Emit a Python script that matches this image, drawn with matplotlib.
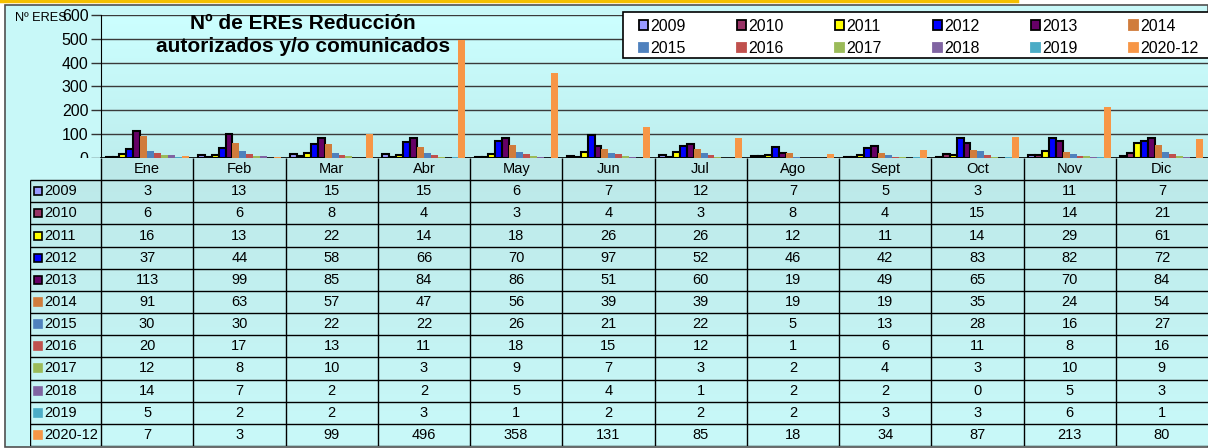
import numpy as np
import matplotlib
matplotlib.use("Agg")
import matplotlib.pyplot as plt
from matplotlib.patches import Rectangle
from matplotlib.lines import Line2D
from matplotlib.colors import LinearSegmentedColormap

"""Datos: numero de EREs de reduccion por mes y año"""
months = ['Ene', 'Feb', 'Mar', 'Abr', 'May', 'Jun', 'Jul', 'Ago', 'Sept', 'Oct', 'Nov', 'Dic']
years = ['2009', '2010', '2011', '2012', '2013', '2014',
         '2015', '2016', '2017', '2018', '2019', '2020-12']

v2009 = [3, 13, 15, 15, 6, 7, 12, 7, 5, 3, 11, 7]
v2010 = [6, 6, 8, 4, 3, 4, 3, 8, 4, 15, 14, 21]
v2011 = [16, 13, 22, 14, 18, 26, 26, 12, 11, 14, 29, 61]
v2012 = [37, 44, 58, 66, 70, 97, 52, 46, 42, 83, 82, 72]
v2013 = [113, 99, 85, 84, 86, 51, 60, 19, 49, 65, 70, 84]
v2014 = [91, 63, 57, 47, 56, 39, 39, 19, 19, 35, 24, 54]
v2015 = [30, 30, 22, 22, 26, 21, 22, 5, 13, 28, 16, 27]
v2016 = [20, 17, 13, 11, 18, 15, 12, 1, 6, 11, 8, 16]
v2017 = [12, 8, 10, 3, 9, 7, 3, 2, 4, 3, 10, 9]
v2018 = [14, 7, 2, 2, 5, 4, 1, 2, 2, 0, 5, 3]
v2019 = [5, 2, 2, 3, 1, 2, 2, 2, 3, 3, 6, 1]
v2020 = [7, 3, 99, 496, 358, 131, 85, 18, 34, 87, 213, 80]

series = [v2009, v2010, v2011, v2012, v2013, v2014,
          v2015, v2016, v2017, v2018, v2019, v2020]
colors = ['#9999FF', '#993366', '#FFFF00', '#0000FF', '#660066', '#D07C3C',
          '#4F81BD', '#C0504D', '#9BBB59', '#8064A2', '#4BACC6', '#F79646']
n_edged = 5   # 2009-2013 llevan borde negro

"""Figura"""
W, H = 1208, 448
plt.rcParams['font.family'] = ['Liberation Sans', 'DejaVu Sans']
fig = plt.figure(figsize=(W / 100, H / 100), dpi=100, facecolor='white')


def box(x0, y0, x1, y1):
    # pixel box (top-left origin) -> figure fraction rect
    return [x0 / W, 1 - y1 / H, (x1 - x0) / W, (y1 - y0) / H]


fig.patches.append(Rectangle((5 / W, 1 - 447 / H), (W - 5) / W, 442 / H,
                             transform=fig.transFigure, facecolor='#C8F8F8',
                             edgecolor='#505050', lw=1.2, zorder=-5))
fig.add_artist(Line2D([0, 1017 / W], [1 - 1 / H] * 2, color='#F5C000', lw=2.5))

"""Barras"""
ax = fig.add_axes(box(101, 15, 1208, 158))
ax.patch.set_alpha(0)
cm_plot = LinearSegmentedColormap.from_list('bgp', ['#CCFFFF', '#BEEEEE'])
ax.imshow(np.linspace(0, 1, 100)[:, None], extent=[0, 12, 0, 600],
          aspect='auto', cmap=cm_plot, zorder=0)

w = 0.075
off = (1 - 12 * w) / 2
for i, (vals, c) in enumerate(zip(series, colors)):
    x = np.arange(12) + off + (i + 0.5) * w
    if i < n_edged:
        ax.bar(x, vals, width=w, color=c, edgecolor='black', lw=1.5, zorder=3)
    else:
        ax.bar(x, vals, width=w, color=c, lw=0, zorder=3)

ax.set_xlim(0, 12)
ax.set_ylim(0, 600)
ax.set_yticks(range(0, 601, 100))
ax.yaxis.grid(True, color='#3a3a3a', lw=1)
ax.set_axisbelow(True)
ax.tick_params(axis='y', direction='out', length=7, width=1, color='#333333',
               labelsize=11.5, pad=2)
ax.tick_params(axis='x', bottom=False, labelbottom=False)
ax.spines['right'].set_visible(False)
ax.spines['top'].set_visible(False)
ax.spines['left'].set_color('black')
ax.spines['bottom'].set_linewidth(1.2)

fig.text(303 / W, 1 - 35 / H, 'Nº de EREs Reducción\nautorizados y/o comunicados',
         ha='center', va='center', fontsize=15, weight='bold', linespacing=1.22)
fig.text(15 / W, 1 - 18 / H, 'Nº ERES', fontsize=9.2, va='center')

"""Leyenda (orden por filas), con marco propio"""
fig.patches.append(Rectangle((623 / W, 1 - 58 / H), 590 / W, 46 / H,
                             transform=fig.transFigure, facecolor='white',
                             edgecolor='black', lw=1.2, zorder=4))
handles = [Rectangle((0, 0), 1, 1, facecolor=c,
                     edgecolor='black' if i < n_edged else c, lw=1.3)
           for i, c in enumerate(colors)]
order = [0, 6, 1, 7, 2, 8, 3, 9, 4, 10, 5, 11]
leg = fig.legend([handles[k] for k in order], [years[k] for k in order], ncol=6,
                 loc='center left', bbox_to_anchor=(639 / W, 1 - 37.5 / H),
                 frameon=False, fontsize=11.5, handlelength=0.57, handleheight=0.57,
                 handletextpad=0.15, columnspacing=3.2, labelspacing=0.45,
                 borderpad=0, borderaxespad=0)
leg.set_zorder(5)

"""Tabla de datos"""
lab_w = 0.77
tab = fig.add_axes(box(30, 158, 1208, 446))
tab.patch.set_alpha(0)
cm_tab = LinearSegmentedColormap.from_list('bgt', ['#BCE8E8', '#C9F9F9'])
tab.imshow(np.linspace(0, 1, 100)[:, None], extent=[-lab_w, 12, 13, 0],
           aspect='auto', cmap=cm_tab, zorder=0)
tab.add_patch(Rectangle((-lab_w, 0), lab_w, 1, facecolor='#C8F8F8', lw=0, zorder=1))
tab.set_xlim(-lab_w, 12)
tab.set_ylim(13, 0)
tab.axis('off')

tab.vlines(np.arange(0, 12), 0, 13, color='black', lw=1, zorder=2)
tab.vlines([-lab_w], 1, 13, color='black', lw=1, zorder=2)
tab.hlines(np.arange(1, 14), -lab_w, 12, color='black', lw=1, zorder=2)

for k, m in enumerate(months):
    tab.text(k + 0.5, 0.5, m, ha='center', va='center', fontsize=10.5)

for r, (yr, vals, c) in enumerate(zip(years, series, colors)):
    yc = r + 1.5
    tab.plot(-lab_w + 0.085, yc, marker='s', ms=5.5, mfc=c,
             mec='black' if r < n_edged else c, mew=1.2, zorder=3, clip_on=False)
    tab.text(-lab_w + 0.15, yc, yr, ha='left', va='center', fontsize=10.5)
    for k, v in enumerate(vals):
        tab.text(k + 0.5, yc, str(v), ha='center', va='center', fontsize=10.5)

fig.savefig('out.png', dpi=100)
